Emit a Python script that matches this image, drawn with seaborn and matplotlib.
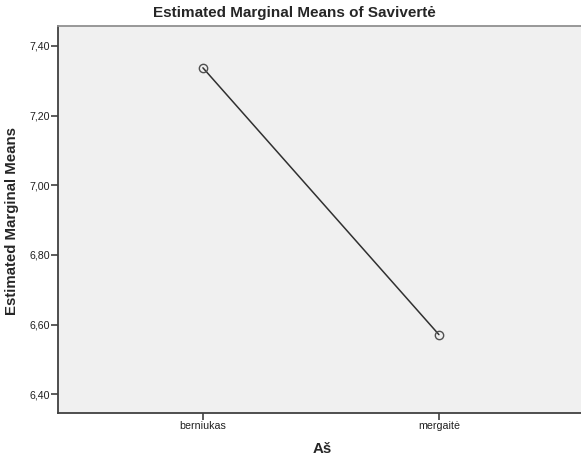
import matplotlib
matplotlib.use("Agg")
import matplotlib.pyplot as plt
import seaborn as sns
import pandas as pd

categories = ["berniukas", "mergaitė"]
means = [7.337, 6.571]
yticks = [6.40, 6.60, 6.80, 7.00, 7.20, 7.40]

df = pd.DataFrame({"Aš": categories, "mean": means, "pos": [0, 1]})

sns.set_style("white")
plt.rcParams["font.family"] = ["Liberation Sans", "DejaVu Sans"]

W, H = 581, 463
fig = plt.figure(figsize=(W / 100, H / 100), dpi=100)
ax = fig.add_axes([58 / W, 1 - 413 / H, 1 - 58 / W, (413 - 26) / H])
ax.set_facecolor("#F0F0F0")

sns.lineplot(data=df, x="pos", y="mean", ax=ax, color="#303030", linewidth=1.1,
             marker="o", markersize=6, markerfacecolor="none",
             markeredgecolor="#505050", markeredgewidth=1.0)

ax.set_xlim(-0.614, 1.602)
ax.set_ylim(6.346, 7.457)
ax.set_xticks([0, 1])
ax.set_xticklabels(categories, fontsize=7.7)
ax.set_yticks(yticks)
ax.set_yticklabels([f"{v:.2f}".replace(".", ",") for v in yticks], fontsize=7.7)
ax.tick_params(axis="both", bottom=True, left=True, length=5, width=1.2,
               color="#404040", pad=1, direction="out", labelcolor="#202020")

for side in ["left", "bottom"]:
    ax.spines[side].set_color("#404040")
    ax.spines[side].set_linewidth(1.3)
ax.spines["top"].set_color("#909090")
ax.spines["top"].set_linewidth(1.3)
ax.spines["right"].set_visible(False)

ax.set_xlabel("")
ax.set_ylabel("")
fig.text(313 / W, 1 - 449 / H, "Aš", fontsize=10.8, fontweight="bold",
         ha="left", va="center")
fig.text(12 / W, 1 - 221 / H, "Estimated Marginal Means", fontsize=10.8,
         fontweight="bold", rotation=90, ha="center", va="center")
fig.text(294 / W, 1 - 13 / H, "Estimated Marginal Means of Savivertė",
         fontsize=11, fontweight="bold", ha="center", va="center")

fig.savefig("out.png", dpi=100)
